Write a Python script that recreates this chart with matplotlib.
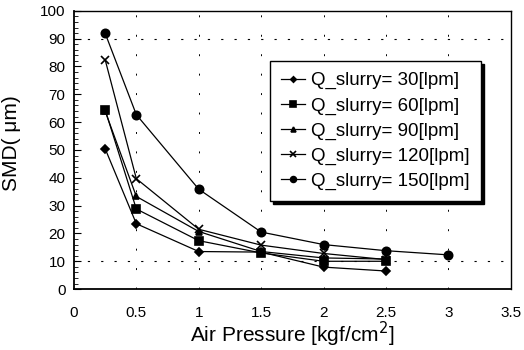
import matplotlib
matplotlib.use("Agg")
import matplotlib.pyplot as plt
from matplotlib.ticker import MultipleLocator

plt.rcParams['font.family'] = ['Liberation Sans', 'DejaVu Sans']

# air pressure [kgf/cm2] and droplet size SMD [um] per slurry flow rate
p_30 = [0.25, 0.5, 1, 1.5, 2, 2.5]
smd_30 = [50.5, 23.5, 13.5, 13.3, 7.9, 6.5]
p_60 = [0.25, 0.5, 1, 1.5, 2, 2.5]
smd_60 = [64.5, 28.8, 17.4, 13.0, 10.0, 10.0]
p_90 = [0.25, 0.5, 1, 1.5, 2, 2.5]
smd_90 = [64.0, 33.3, 20.7, 13.5, 11.2, 10.8]
p_120 = [0.25, 0.5, 1, 1.5, 2, 2.5]
smd_120 = [82.5, 39.7, 21.5, 15.8, 12.8, 10.6]
p_150 = [0.25, 0.5, 1, 1.5, 2, 2.5, 3]
smd_150 = [92.0, 62.7, 35.9, 20.5, 16.0, 13.8, 12.3]

labels = ['Q_slurry= 30[lpm]', 'Q_slurry= 60[lpm]', 'Q_slurry= 90[lpm]',
          'Q_slurry= 120[lpm]', 'Q_slurry= 150[lpm]']
markers = ['D', 's', '^', 'x', 'o']
msizes = [4, 6, 5, 6, 6]

fig = plt.figure(figsize=(5.24, 3.5), dpi=100)
ax = fig.add_axes([0.141, 0.174, 0.834, 0.795])

series = [(p_30, smd_30), (p_60, smd_60), (p_90, smd_90),
          (p_120, smd_120), (p_150, smd_150)]
for (x, y), lab, m, ms in zip(series, labels, markers, msizes):
    ax.plot(x, y, color='black', lw=0.9, marker=m, ms=ms, mew=1.2,
            label=lab)

ax.set_xlim(0, 3.5)
ax.set_ylim(0, 100)
ax.yaxis.set_major_locator(MultipleLocator(10))
ax.yaxis.set_minor_locator(MultipleLocator(2))
ax.set_xticks([0, 0.5, 1, 1.5, 2, 2.5, 3, 3.5])
ax.set_xticklabels(['0', '0.5', '1', '1.5', '2', '2.5', '3', '3.5'])
ax.tick_params(axis='y', which='both', direction='in', left=True,
               labelsize=11, pad=6)
ax.tick_params(axis='y', which='major', length=5)
ax.tick_params(axis='y', which='minor', length=3)
ax.tick_params(axis='x', length=0, labelsize=11, pad=12)

# sparse dashed guides
for xv in [0.5, 1, 1.5, 2, 2.5, 3]:
    ax.axvline(xv, color='black', lw=0.7, ls=(0, (2, 18)))
for yv in [10, 90]:
    ax.axhline(yv, color='black', lw=0.8, ls=(0, (2, 10)))

for sp in ax.spines.values():
    sp.set_linewidth(1.0)
ax.spines['left'].set_linewidth(1.3)
ax.spines['bottom'].set_linewidth(1.3)

ax.set_xlabel('Air Pressure [kgf/cm$^2$]', fontsize=15, labelpad=0)
fig.text(0.004, 0.59, 'SMD( μm)', rotation=90, fontsize=15,
         va='center', ha='left')

leg = ax.legend(loc='upper left', bbox_to_anchor=(0.497, 0.853),
                bbox_transform=fig.transFigure, fontsize=13.5,
                frameon=True, fancybox=False, handlelength=1.3,
                handletextpad=0.3, borderpad=0.6, labelspacing=0.42,
                markerscale=0.7,
                shadow={'color': 'black', 'alpha': 1})
leg.get_frame().set_edgecolor('black')
leg.get_frame().set_linewidth(1.0)

fig.savefig('out.png', dpi=100)
